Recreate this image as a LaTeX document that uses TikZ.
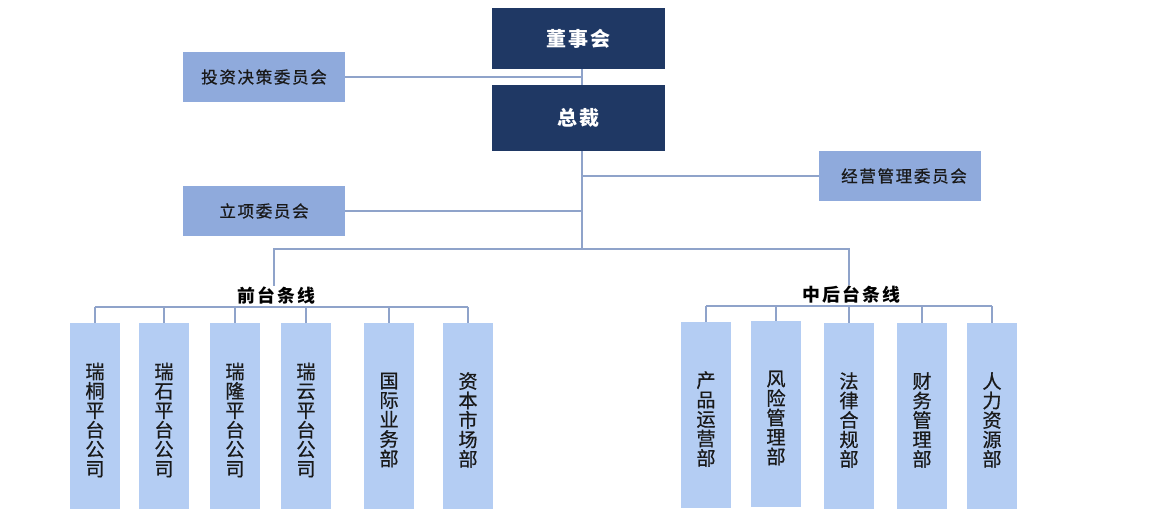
\documentclass[tikz,border=0pt]{standalone}
\usepackage{fontspec}
\setmainfont{Noto Sans CJK SC}
\newfontfamily\topfont[LetterSpace=12]{Noto Sans CJK SC}
\newfontfamily\comfont[LetterSpace=10,FakeBold=0.6]{Noto Sans CJK SC}
\newfontfamily\labfont[LetterSpace=12]{Noto Sans CJK SC}
\newfontfamily\unitfont[FakeBold=0.6]{Noto Sans CJK SC}
\definecolor{navy}{HTML}{1F3864}
\definecolor{midblue}{HTML}{8FAADC}
\definecolor{lightblue}{HTML}{B4CDF3}
\definecolor{lncol}{HTML}{8FA3CA}
\newcommand\unitnode[4]{%
  \node[unitbox] (#1) at (#2,#3) {};
  \node[unittext] (#1t) at ([yshift=-4*0.75pt]#1.center) {#4};}
\begin{document}
\begin{tikzpicture}[x=0.75pt,y=-0.75pt,
  topbox/.style={fill=navy,draw=none,inner sep=0pt,minimum width=173*0.75pt,text=white,font=\topfont\bfseries\fontsize{15}{17}\selectfont},
  combox/.style={fill=midblue,draw=none,inner sep=0pt,minimum width=162*0.75pt,minimum height=50*0.75pt,text=black!90,font=\comfont\fontsize{12.4}{14}\selectfont},
  unitbox/.style={fill=lightblue,draw=none,inner sep=0pt,minimum width=50*0.75pt,minimum height=186*0.75pt},
  unittext/.style={inner sep=0pt,text=black!90,align=center,font=\unitfont\fontsize{14.4}{14.6}\selectfont},
  lab/.style={inner sep=1pt,text=black,font=\labfont\bfseries\fontsize{13.4}{15}\selectfont},
  ln/.style={draw=lncol,line width=1.2pt},
  lnv/.style={draw=lncol,line width=1pt}]
\useasboundingbox (0,0) rectangle (1160,509);
% top
\node[topbox,minimum height=61*0.75pt] (ds) at (578.5,38.5) {董事会};
\node[topbox,minimum height=66*0.75pt] (zc) at (578.5,118) {总裁};
\node[combox] (tz) at (264,77) {投资决策委员会};
\node[combox] (lx) at (264,211) {立项委员会};
\node[combox] (jy) at (900,176) {\hspace*{6pt}经营管理委员会};
\coordinate (trunk) at (582,0);
\coordinate (bus) at (0,249);
\draw[lnv] (ds.south -| trunk) -- (zc.north -| trunk);
\draw[lnv] (zc.south -| trunk) -- (trunk |- bus);
\draw[ln] (tz.east) -- (tz.east -| trunk);
\draw[ln] (lx.east) -- (lx.east -| trunk);
\draw[ln] (jy.west) -- (jy.west -| trunk);
% labels
\node[lab] (qt) at (276,296) {前台条线};
\node[lab] (zh) at (851,295) {中后台条线};
\draw[ln] (qt.north -| 274,0) -- (274,249) -- (849,249) -- (zh.north -| 849,0);
% front units
\unitnode{f1}{95}{416}{瑞\\桐\\平\\台\\公\\司}
\unitnode{f2}{164}{416}{瑞\\石\\平\\台\\公\\司}
\unitnode{f3}{235}{416}{瑞\\隆\\平\\台\\公\\司}
\unitnode{f4}{306}{416}{瑞\\云\\平\\台\\公\\司}
\unitnode{f5}{389}{416}{国\\际\\业\\务\\部}
\unitnode{f6}{468}{416}{资\\本\\市\\场\\部}
\coordinate (fbus) at (0,307);
\draw[ln] (f1.north |- fbus) -- (f6.north |- fbus);
\foreach \i in {1,...,6} \draw[lnv] (f\i.north |- fbus) -- (f\i.north);
% back units
\unitnode{b1}{706}{415}{产\\品\\运\\营\\部}
\unitnode{b2}{776}{414}{风\\险\\管\\理\\部}
\unitnode{b3}{849}{416}{法\\律\\合\\规\\部}
\unitnode{b4}{922}{416}{财\\务\\管\\理\\部}
\unitnode{b5}{992}{416}{人\\力\\资\\源\\部}
\coordinate (bbus) at (0,306);
\draw[ln] (b1.north |- bbus) -- (b5.north |- bbus);
\foreach \i in {1,...,5} \draw[lnv] (b\i.north |- bbus) -- (b\i.north);
\end{tikzpicture}
\end{document}
